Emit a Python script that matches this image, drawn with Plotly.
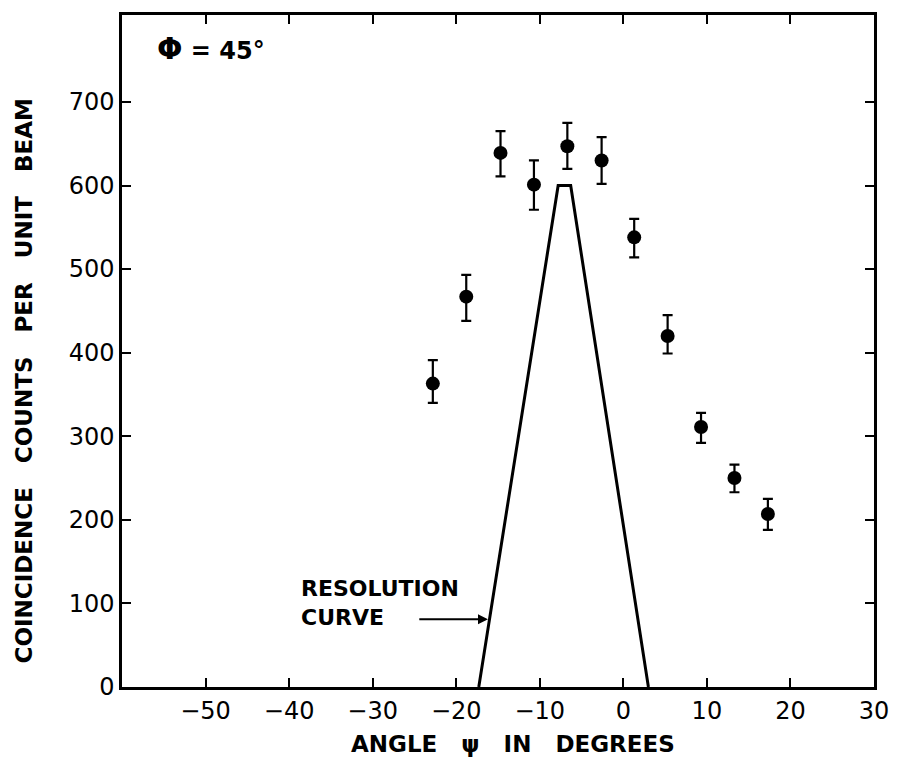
import plotly.graph_objects as go

# Measured data points
angle = [-22.8, -18.8, -14.7, -10.7, -6.7, -2.6, 1.3, 5.3, 9.3, 13.3, 17.3]
counts = [363, 467, 639, 601, 647, 630, 538, 420, 311, 250, 207]
err_plus = [28, 26, 26, 29, 28, 28, 22, 25, 17, 16, 18]
err_minus = [23, 29, 28, 30, 27, 28, 24, 21, 19, 17, 19]

# Resolution curve (trapezoid)
res_angle = [-17.3, -7.8, -6.3, 3.0]
res_counts = [0, 600, 600, 0]

x_ticks = [-50, -40, -30, -20, -10, 0, 10, 20, 30]
y_ticks = [0, 100, 200, 300, 400, 500, 600, 700]

FONT = "DejaVu Sans"
NB = "\u00a0"

fig = go.Figure()
fig.add_trace(go.Scatter(
    x=res_angle, y=res_counts, mode="lines",
    line=dict(color="black", width=3), showlegend=False))
fig.add_trace(go.Scatter(
    x=angle, y=counts, mode="markers",
    marker=dict(color="black", size=14),
    error_y=dict(type="data", symmetric=False, array=err_plus, arrayminus=err_minus,
                 color="black", thickness=2.2, width=5),
    showlegend=False))

axis_common = dict(showline=True, linecolor="black", linewidth=2.5, mirror="ticks",
                   ticks="inside", ticklen=9, tickwidth=2, tickcolor="black",
                   showgrid=False, zeroline=False, ticklabeloverflow="allow",
                   tickfont=dict(family=FONT, size=24, color="black"))
fig.update_xaxes(range=[-60, 30], tickvals=x_ticks, ticklabelstandoff=0, **axis_common)
fig.update_yaxes(range=[0, 804], tickvals=y_ticks, ticklabelstandoff=0, **axis_common)

fig.add_annotation(x=-16.2, y=81, ax=-24.6, ay=81, xref="x", yref="y", axref="x", ayref="y",
                   showarrow=True, arrowhead=2, arrowsize=1, arrowwidth=2, arrowcolor="black", text="")
fig.add_annotation(x=-38.8, y=100, xref="x", yref="y", xanchor="left", yanchor="middle",
                   text="<b>RESOLUTION<br>CURVE</b>", showarrow=False, align="left",
                   font=dict(family=FONT, size=22, color="black"))
fig.add_annotation(x=-56.0, y=764, xref="x", yref="y", xanchor="left", yanchor="middle",
                   text="<b><span style='font-size:30px'>Φ</span>" + NB + "=" + NB + "45°</b>",
                   showarrow=False,
                   font=dict(family=FONT, size=24, color="black"))
fig.add_annotation(x=0.52, y=-0.062, xref="paper", yref="paper", yanchor="top",
                   text="<b>ANGLE" + NB * 3 + "ψ" + NB * 3 + "IN" + NB * 3 + "DEGREES</b>", showarrow=False,
                   font=dict(family=FONT, size=23, color="black"))
fig.add_annotation(x=-0.13, y=0.455, xref="paper", yref="paper", xanchor="center", yanchor="middle",
                   textangle=-90,
                   text="<b>COINCIDENCE" + NB * 3 + "COUNTS" + NB * 3 + "PER" + NB * 3 + "UNIT" + NB * 3 + "BEAM</b>",
                   showarrow=False,
                   font=dict(family=FONT, size=23, color="black"))

fig.update_layout(width=901, height=768, plot_bgcolor="white", paper_bgcolor="white",
                  margin=dict(l=122, r=13, t=12, b=81))
fig.write_html("out.html", config={"displayModeBar": False},
               post_script="document.body.style.margin='0';")
